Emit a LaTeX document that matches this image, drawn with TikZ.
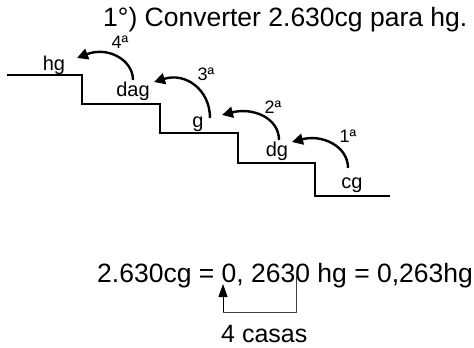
\documentclass[tikz,border=0pt]{standalone}
\usepackage{fontspec}
\setmainfont{Liberation Sans}
\usetikzlibrary{arrows.meta}
\begin{document}
\begin{tikzpicture}[x=1pt,y=-1pt,
  stairline/.style={line width=2.4pt, line join=miter},
  unitlabel/.style={font=\fontsize{20}{20}\selectfont, anchor=base, inner sep=0pt},
  ordlabel/.style={font=\fontsize{18}{18}\selectfont, anchor=base, inner sep=0pt},
  steparrow/.style={line width=2.4pt, -{Triangle[length=11pt,width=11pt]}},
  bigtext/.style={font=\fontsize{26.5}{26.5}\selectfont, anchor=base west, inner sep=0pt},
  bracketline/.style={line width=1pt, black!75},
  bracketarrow/.style={bracketline, -{Triangle[length=13pt,width=9pt]}, black},
]
\useasboundingbox (0,0) rectangle (474,348);

% title
\node[bigtext] (title) at (103,26) {1°) Converter 2.630cg para hg.};

% staircase
\draw[stairline] (7,75) -- (82,75) -- (82,104) -- (160,104) -- (160,133)
  -- (238,133) -- (238,163) -- (315,163) -- (315,196) -- (390,196);

% unit labels
\node[unitlabel] (hg)  at (54,70)  {hg};
\node[unitlabel] (dag) at (133,96) {dag};
\node[unitlabel] (g)   at (198,127) {g};
\node[unitlabel] (dg)  at (277,156) {dg};
\node[unitlabel] (cg)  at (352,188) {cg};

% ordinal labels
\node[ordlabel] (o1) at (348,142) {1ª};
\node[ordlabel] (o2) at (273,113) {2ª};
\node[ordlabel] (o3) at (206,80)  {3ª};
\node[ordlabel] (o4) at (120,48)  {4ª};

% arrows
\coordinate (s1) at (348,168); \coordinate (t1) at (292,142);
\coordinate (s2) at (279,140); \coordinate (t2) at (222,115);
\coordinate (s3) at (210,118); \coordinate (t3) at (154,82);
\coordinate (s4) at (133,80);  \coordinate (t4) at (77,58);
\draw[steparrow] (s1) .. controls (348,146) and (322,134) .. (t1);
\draw[steparrow] (s2) .. controls (279,118) and (253,107) .. (t2);
\draw[steparrow] (s3) .. controls (210,90) and (186,72) .. (t3);
\draw[steparrow] (s4) .. controls (133,60) and (108,46) .. (t4);

% equation
\node[bigtext] (eq) at (97,282) {2.630cg = 0, 2630 hg = 0,263hg};

% bracket
\coordinate (rtop) at (296,271);
\coordinate (bcorner) at (223,312);
\coordinate (atop) at (223,284);
\draw[bracketline] (rtop) -- (296,312) -- (bcorner);
\draw[bracketarrow] (bcorner) -- (atop);

\node[bigtext, font=\fontsize{25}{25}\selectfont] (casas) at (221,342) {4 casas};
\end{tikzpicture}
\end{document}
